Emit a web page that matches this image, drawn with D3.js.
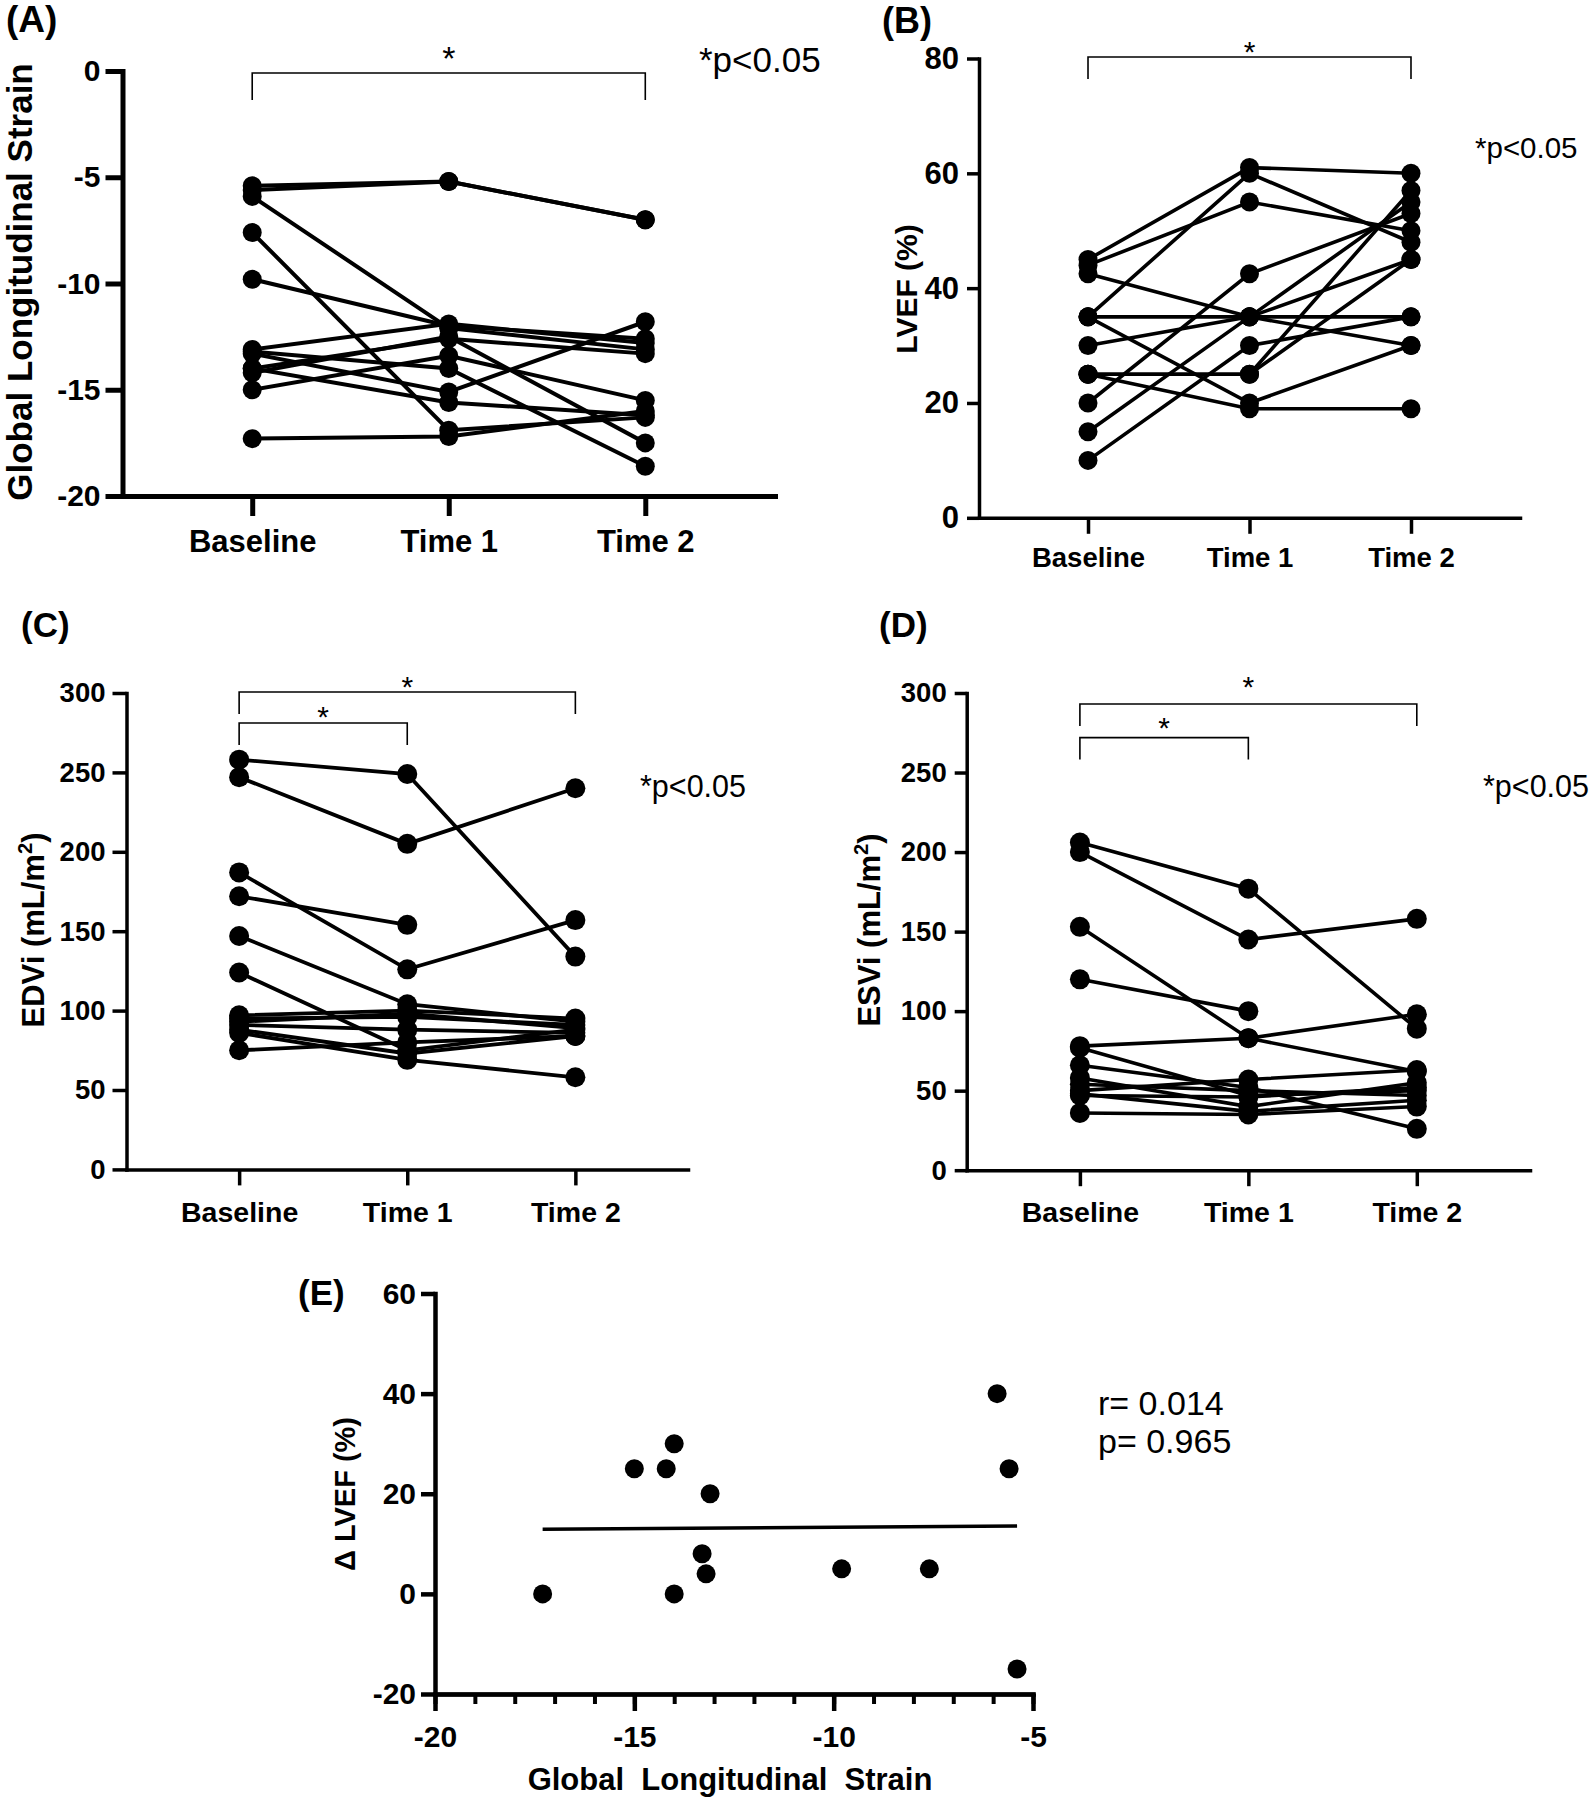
<!DOCTYPE html>
<html>
<head>
<meta charset="utf-8">
<script src="https://cdn.jsdelivr.net/npm/d3@7"></script>
<style>
  html, body { margin: 0; padding: 0; background: #fff; }
  svg { display: block; }
</style>
</head>
<body>
<svg id="chart"></svg>
<script>
// categories shared by the four paired panels
const categories = ["Baseline", "Time 1", "Time 2"];

// (A) global longitudinal strain, one row per patient: baseline, time 1, time 2
const glsPatients = [
    [-5.4, -5.2, -7.0],
    [-5.6, -5.2, -7.0],
    [-5.9, -12.1, -13.1],
    [-7.6, -16.9, -16.3],
    [-9.8, -12.0, -12.6],
    [-13.1, -11.9, -12.8],
    [-13.2, -14.0, -18.6],
    [-13.3, -15.1, -11.8],
    [-14.0, -12.6, -13.3],
    [-14.0, -15.6, -16.2],
    [-14.2, -12.5, -17.5],
    [-15.0, -13.4, -15.5],
    [-17.3, -17.2, -16.0],
];
const glsTicks = [0, -5, -10, -15, -20];

// (B) LVEF %
const lvefPatients = [
    [45, 61, 60],
    [44, 55, 50],
    [42.5, 35, 30],
    [35, 60, 48],
    [35, 35, 35],
    [35, 20, 30],
    [30, 35, 45],
    [25, 25, 57],
    [25, 19, 19],
    [20, 42.5, 53],
    [15, 35, 55],
    [10, 30, 35],
    [25, 25, 45],
];
const lvefTicks = [0, 20, 40, 60, 80];

// (C) EDVi, null = no value at that visit
const edviPatients = [
    [258, 249, 134],
    [247, 205, 240],
    [187, 126, 157],
    [172, 154, null],
    [147, 104, 93],
    [124, 75, 88],
    [97, 100, 95],
    [95, 96, 91],
    [93, 98, 89],
    [91, 88, 86],
    [88, 73, 84],
    [86, 69, 58],
    [75, 80, 84],
];

// (D) ESVi
const esviPatients = [
    [206, 177, 89],
    [200, 145, 158],
    [153, 83, 62],
    [120, 100, null],
    [78, 83, 98],
    [77, 47, 50],
    [66, 52, 26],
    [58, 40, 55],
    [54, 50, 47],
    [50, 57, 63],
    [47, 46, 52],
    [48, 37, 44],
    [36, 35, 40],
];
const volumeTicks = [0, 50, 100, 150, 200, 250, 300];

// (E) baseline GLS vs change in LVEF
const corrGls = [-17.3, -15.0, -14.2, -14.0, -14.0, -13.1, -13.3, -13.2, -9.8, -7.6, -5.9, -5.6, -5.4];
const corrDeltaLvef = [0, 25, 25, 30, 0, 20, 8, 4, 5, 5, 40, 25, -15];
const corrXTicks = [-20, -15, -10, -5];
const corrYTicks = [-20, 0, 20, 40, 60];
const corrStats = ["r= 0.014", "p= 0.965"];

const FONT = "'Liberation Sans', Arial, Helvetica, sans-serif";

const svg = d3.select("#chart")
    .attr("width", 1592)
    .attr("height", 1800)
    .attr("font-family", FONT);

svg.append("rect").attr("width", 1592).attr("height", 1800).attr("fill", "#fff");

function styleAxis(sel, width, fontSize) {
    sel.attr("font-family", FONT)
        .attr("font-size", fontSize)
        .attr("font-weight", "bold");
    sel.select(".domain").attr("stroke-width", width).attr("stroke-linecap", "square");
    sel.selectAll(".tick line").attr("stroke-width", width);
    sel.selectAll(".tick text").attr("fill", "#000");
}

function rotatedLabel(g, x, y, size, build) {
    const t = g.append("text")
        .attr("transform", `translate(${x},${y}) rotate(-90)`)
        .attr("text-anchor", "middle")
        .attr("font-size", size)
        .attr("font-weight", "bold");
    build(t);
}

function pairedPanel(cfg, patients) {
    const g = svg.append("g");

    const x = d3.scalePoint().domain(categories).range(cfg.xRange).padding(cfg.pad);
    const y = d3.scaleLinear().domain(cfg.yDomain).range(cfg.yRange);

    // y axis
    g.append("g")
        .attr("transform", `translate(${cfg.xRange[0]},0)`)
        .call(d3.axisLeft(y)
            .tickValues(cfg.ticks)
            .tickSize(cfg.tickLen)
            .tickSizeOuter(0)
            .tickPadding(cfg.tickPad)
            .tickFormat(d => String(d)))
        .call(s => styleAxis(s, cfg.axisW, cfg.tickFont));

    // x axis with category labels
    const catPad = cfg.catBase - cfg.yRange[0] - cfg.xTickLen - 0.71 * cfg.catFont;
    g.append("g")
        .attr("transform", `translate(0,${cfg.yRange[0]})`)
        .call(d3.axisBottom(x)
            .tickSize(cfg.xTickLen)
            .tickSizeOuter(0)
            .tickPadding(catPad))
        .call(s => styleAxis(s, cfg.axisW, cfg.catFont));

    // patient lines
    const line = d3.line()
        .defined(d => d.v != null)
        .x(d => x(d.c))
        .y(d => y(d.v));

    const rows = patients.map(p => p.map((v, i) => ({ c: categories[i], v })));

    g.append("g")
        .selectAll("path")
        .data(rows)
        .join("path")
        .attr("d", line)
        .attr("fill", "none")
        .attr("stroke", "#000")
        .attr("stroke-width", cfg.lineW);

    g.append("g")
        .selectAll("circle")
        .data(rows.flat().filter(d => d.v != null))
        .join("circle")
        .attr("cx", d => x(d.c))
        .attr("cy", d => y(d.v))
        .attr("r", cfg.r)
        .attr("fill", "#000");

    // significance brackets
    cfg.brackets.forEach(b => {
        const x1 = x(b.from), x2 = x(b.to);
        g.append("path")
            .attr("d", `M${x1},${b.y + b.drop}V${b.y}H${x2}V${b.y + b.drop}`)
            .attr("fill", "none")
            .attr("stroke", "#000")
            .attr("stroke-width", 1.6);
        g.append("text")
            .attr("x", (x1 + x2) / 2)
            .attr("y", b.starY)
            .attr("text-anchor", "middle")
            .attr("font-size", b.starSize)
            .text("*");
    });

    g.append("text")
        .attr("x", cfg.pText[0])
        .attr("y", cfg.pText[1])
        .attr("font-size", cfg.pText[2])
        .text("*p<0.05");

    g.append("text")
        .attr("x", cfg.panel[0])
        .attr("y", cfg.panel[1])
        .attr("font-size", cfg.panel[3])
        .attr("font-weight", "bold")
        .text(cfg.panel[2]);

    rotatedLabel(g, cfg.yLab[0], cfg.yLab[1], cfg.yLab[2], cfg.yLabText);
}

function volumeLabel(name) {
    return t => {
        t.append("tspan").text(`${name} (mL/m`);
        t.append("tspan").attr("font-size", "0.65em").attr("dy", "-0.6em").text("2");
        t.append("tspan").attr("dy", "0.4em").text(")");
    };
}

// (A)
pairedPanel({
    xRange: [122.5, 775], pad: 0.66,
    yDomain: [-20, 0], yRange: [496, 71],
    ticks: glsTicks, tickLen: 17, tickPad: 5, tickFont: 30,
    xTickLen: 20, catFont: 31, catBase: 552,
    axisW: 5, lineW: 4, r: 9.5,
    brackets: [{ from: "Baseline", to: "Time 2", y: 73, drop: 27, starY: 70, starSize: 34 }],
    pText: [699, 72, 35],
    panel: [6, 32, "(A)", 37],
    yLab: [32, 282, 35],
    yLabText: t => t.text("Global Longitudinal Strain"),
}, glsPatients);

// (B)
pairedPanel({
    xRange: [979, 1520], pad: 0.675,
    yDomain: [0, 80], yRange: [517.8, 58.5],
    ticks: lvefTicks, tickLen: 12, tickPad: 8, tickFont: 31,
    xTickLen: 16, catFont: 27.5, catBase: 567,
    axisW: 3.5, lineW: 3.6, r: 9.5,
    brackets: [{ from: "Baseline", to: "Time 2", y: 57, drop: 22, starY: 62, starSize: 30 }],
    pText: [1475, 158, 29.5],
    panel: [882, 33, "(B)", 36],
    yLab: [917, 289, 30],
    yLabText: t => t.text("LVEF (%)"),
}, lvefPatients);

// (C)
pairedPanel({
    xRange: [126.5, 688], pad: 0.67,
    yDomain: [0, 300], yRange: [1169.4, 693],
    ticks: volumeTicks, tickLen: 14, tickPad: 7, tickFont: 27.5,
    xTickLen: 16, catFont: 28.5, catBase: 1222,
    axisW: 3.5, lineW: 3.8, r: 10,
    brackets: [
        { from: "Baseline", to: "Time 2", y: 692, drop: 22, starY: 697, starSize: 30 },
        { from: "Baseline", to: "Time 1", y: 723, drop: 22, starY: 727, starSize: 30 },
    ],
    pText: [640, 797, 30.5],
    panel: [21, 637, "(C)", 35],
    yLab: [44, 930, 31],
    yLabText: volumeLabel("EDVi"),
}, edviPatients);

// (D)
pairedPanel({
    xRange: [966.7, 1530], pad: 0.672,
    yDomain: [0, 300], yRange: [1170.2, 693],
    ticks: volumeTicks, tickLen: 12, tickPad: 8, tickFont: 27.5,
    xTickLen: 16, catFont: 28.5, catBase: 1222,
    axisW: 3.5, lineW: 3.6, r: 10,
    brackets: [
        { from: "Baseline", to: "Time 2", y: 704, drop: 22, starY: 697, starSize: 30 },
        { from: "Baseline", to: "Time 1", y: 737.6, drop: 22, starY: 738, starSize: 30 },
    ],
    pText: [1483, 797, 30.5],
    panel: [879, 637, "(D)", 35],
    yLab: [880, 930, 31],
    yLabText: volumeLabel("ESVi"),
}, esviPatients);

// (E) scatter with regression line
(function () {
    const g = svg.append("g");
    const x = d3.scaleLinear().domain([-20, -5]).range([435, 1033]);
    const y = d3.scaleLinear().domain([-20, 60]).range([1694, 1293.5]);

    g.append("g")
        .attr("transform", `translate(${x.range()[0]},0)`)
        .call(d3.axisLeft(y).tickValues(corrYTicks).tickSize(14).tickSizeOuter(0)
            .tickPadding(5).tickFormat(d => String(d)))
        .call(s => styleAxis(s, 4.5, 30));

    // minor ticks every unit
    g.append("g")
        .attr("transform", `translate(0,${y.range()[0]})`)
        .call(d3.axisBottom(x).tickValues(d3.range(-20, -4, 1)).tickSize(10)
            .tickSizeOuter(0).tickFormat(""))
        .call(s => styleAxis(s, 4, 30));

    g.append("g")
        .attr("transform", `translate(0,${y.range()[0]})`)
        .call(d3.axisBottom(x).tickValues(corrXTicks).tickSize(17).tickSizeOuter(0)
            .tickPadding(1747 - 1694 - 17 - 0.71 * 30).tickFormat(d => String(d)))
        .call(s => styleAxis(s, 4.5, 30));

    // least-squares fit over the plotted points
    const pts = corrGls.map((v, i) => [v, corrDeltaLvef[i]]);
    const mx = d3.mean(pts, d => d[0]);
    const my = d3.mean(pts, d => d[1]);
    const slope = d3.sum(pts, d => (d[0] - mx) * (d[1] - my)) / d3.sum(pts, d => (d[0] - mx) ** 2);
    const [x0, x1] = d3.extent(corrGls);

    g.append("line")
        .attr("x1", x(x0)).attr("y1", y(my + slope * (x0 - mx)))
        .attr("x2", x(x1)).attr("y2", y(my + slope * (x1 - mx)))
        .attr("stroke", "#000")
        .attr("stroke-width", 3.5);

    g.append("g")
        .selectAll("circle")
        .data(pts)
        .join("circle")
        .attr("cx", d => x(d[0]))
        .attr("cy", d => y(d[1]))
        .attr("r", 9.5)
        .attr("fill", "#000");

    g.append("text")
        .attr("font-size", 34)
        .selectAll("tspan")
        .data(corrStats)
        .join("tspan")
        .attr("x", 1098)
        .attr("y", (d, i) => 1415 + i * 38)
        .text(d => d);

    g.append("text")
        .attr("x", 298).attr("y", 1305)
        .attr("font-size", 35).attr("font-weight", "bold")
        .text("(E)");

    g.append("text")
        .attr("x", 730).attr("y", 1790)
        .attr("text-anchor", "middle")
        .attr("font-size", 31).attr("font-weight", "bold")
        .style("white-space", "pre")
        .text("Global  Longitudinal  Strain");

    rotatedLabel(g, 355, 1494, 29, t => t.text("\u0394 LVEF (%)"));
})();
</script>
</body>
</html>
